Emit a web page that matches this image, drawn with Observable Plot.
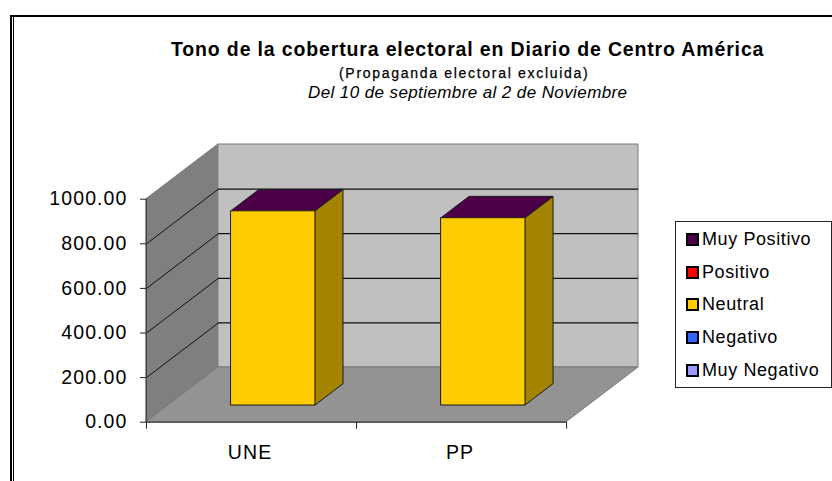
<!DOCTYPE html>
<html lang="es">
<head>
<meta charset="utf-8">
<script src="https://cdn.jsdelivr.net/npm/d3@7"></script>
<script src="https://cdn.jsdelivr.net/npm/@observablehq/plot@0.6"></script>
<style>
html,body{margin:0;padding:0;background:#fff;}
#page{position:relative;width:832px;height:481px;overflow:hidden;font-family:"Liberation Sans",Arial,sans-serif;color:#000;}
#frame{position:absolute;left:10px;top:15px;width:822px;height:466px;border-top:2px solid #000;border-left:2px solid #000;box-sizing:border-box;}
#frame2{position:absolute;left:13px;top:17px;width:1px;height:464px;background:#000;}
#head{height:130px;position:relative;}
#t1{position:absolute;left:171px;top:38px;font-size:19.5px;font-weight:bold;letter-spacing:.85px;white-space:nowrap;}
#t2{position:absolute;left:339px;top:65px;font-size:14px;letter-spacing:1.7px;-webkit-text-stroke:.25px #000;white-space:nowrap;}
#t3{position:absolute;left:308px;top:83px;font-size:17px;font-style:italic;letter-spacing:.4px;white-space:nowrap;}
#plot svg{display:block;}
#legend{position:absolute;left:675px;top:221px;width:157px;height:167px;box-sizing:border-box;border:1px solid #222;background:#fff;}
.row{position:absolute;left:11px;display:flex;align-items:center;height:20px;font-size:18px;letter-spacing:.6px;white-space:nowrap;}
.sw{width:9px;height:9px;border:1px solid #000;outline:.5px solid #000;margin-right:4px;flex:none;}
</style>
</head>
<body>
<div id="page">
  <div id="frame"></div><div id="frame2"></div>
  <div id="head">
    <div id="t1">Tono de la cobertura electoral en Diario de Centro América</div>
    <div id="t2">(Propaganda electoral excluida)</div>
    <div id="t3">Del 10 de septiembre al 2 de Noviembre</div>
  </div>
  <div id="plot"></div>
  <div id="legend"></div>
</div>
<script>
const parties = ["UNE", "PP"];
const tones = ["Muy Positivo", "Positivo", "Neutral", "Negativo", "Muy Negativo"];
const toneColors = ["#4b0048", "#ff0000", "#ffcc00", "#3366ff", "#9999ff"];
const neutralValues = [871, 840];
const yTicks = [0, 200, 400, 600, 800, 1000];
const sideColor = "#a38300";

// Oblique projection of the 3-D depth axis, in data units per full depth
const DX = 0.3423;   // categories
const DY = 245.3;    // value units
const YMAX = 1000;
const CATS = parties.length;
const barW = 0.40;
const d0 = 0.305, d1 = 0.695;

const bars = parties.map((p, i) => ({
  p, v: neutralValues[i],
  xl: i + 0.5 - barW / 2 + d0 * DX,
  xr: i + 0.5 + barW / 2 + d0 * DX,
  yb: d0 * DY,
  yt: neutralValues[i] + d0 * DY
}));

const ink = "#1c1c1c", wallEdge = "#7a7a7a";
const vert = (x1, y1, y2, x2, y3, y4) => [{x: x1, y1, y2}, {x: x2, y1: y3, y2: y4}];
const horiz = (y1, xa, xb, y2, xc, xd) => [{y: y1, x1: xa, x2: xb}, {y: y2, x1: xc, x2: xd}];
const vArea = (pts, o) => Plot.area(pts, {x1: "x", y1: "y1", y2: "y2", ...o});
const hArea = (pts, o) => Plot.area(pts, {y1: "y", x1: "x1", x2: "x2", ...o});

const gridVals = yTicks.filter(v => v > 0 && v < YMAX);

const marks = [
  // back wall
  vArea(vert(DX, DY, YMAX + DY, CATS + DX, DY, YMAX + DY), {fill: "#c0c0c0", stroke: wallEdge, strokeWidth: 1}),
  // left wall
  vArea(vert(0, 0, YMAX, DX, DY, YMAX + DY), {fill: "#7f7f7f", stroke: wallEdge, strokeWidth: 1}),
  // floor
  hArea(horiz(0, 0, CATS, DY, DX, CATS + DX), {fill: "#939393", stroke: wallEdge, strokeWidth: 1}),
  // grid on the back wall and left wall
  Plot.ruleY(gridVals, {y: d => d + DY, x1: DX, x2: CATS + DX, stroke: "#111", strokeWidth: 1.2}),
  Plot.link(gridVals, {x1: 0, y1: d => d, x2: DX, y2: d => d + DY, stroke: "#111", strokeWidth: 1}),
  // front edges
  Plot.ruleY([0], {x1: 0, x2: CATS, stroke: "#333", strokeWidth: 1.2}),
  Plot.ruleX([0], {y1: 0, y2: YMAX, stroke: "#444", strokeWidth: 1}),
  // bars
  ...bars.flatMap(b => {
    const dx = (d1 - d0) * DX, dy = (d1 - d0) * DY;
    return [
      vArea(vert(b.xr, b.yb, b.yt, b.xr + dx, b.yb + dy, b.yt + dy), {fill: sideColor, stroke: ink, strokeWidth: 1}),
      hArea(horiz(b.yt, b.xl, b.xr, b.yt + dy, b.xl + dx, b.xr + dx), {fill: toneColors[0], stroke: ink, strokeWidth: 1}),
      vArea(vert(b.xl, b.yb, b.yt, b.xr, b.yb, b.yt), {fill: toneColors[2], stroke: ink, strokeWidth: 1})
    ];
  }),
  // axes
  Plot.axisY({ticks: yTicks, tickFormat: d3.format(".2f"), tickSize: 6, tickPadding: 13, label: null, anchor: "left", stroke: "#222"}),
  Plot.axisX({ticks: d3.range(CATS + 1), tickFormat: () => "", tickSize: 7, label: null, anchor: "bottom", stroke: "#222"}),
  Plot.axisX({ticks: parties.map((_, i) => i + 0.5), tickFormat: d => parties[d - 0.5], tickSize: 0, tickPadding: 23, dx: -1.5, label: null, anchor: "bottom"})
];

const chart = Plot.plot({
  width: 832,
  height: 351,
  marginLeft: 146,
  marginRight: 194,
  marginTop: 14,
  marginBottom: 59.3,
  x: {type: "linear", domain: [0, CATS + DX]},
  y: {type: "linear", domain: [0, YMAX + DY]},
  style: {fontFamily: '"Liberation Sans",Arial,sans-serif', fontSize: "19.5px", letterSpacing: "1.1px", background: "transparent", color: "#000", overflow: "visible"},
  marks
});
document.getElementById("plot").appendChild(chart);

const legend = document.getElementById("legend");
const rowTops = [7, 40, 72, 105, 138];
tones.forEach((t, i) => {
  const r = document.createElement("div");
  r.className = "row";
  r.style.top = rowTops[i] + "px";
  const s = document.createElement("span");
  s.className = "sw";
  s.style.background = toneColors[i];
  r.appendChild(s);
  r.appendChild(document.createTextNode(t));
  legend.appendChild(r);
});
</script>
</body>
</html>
